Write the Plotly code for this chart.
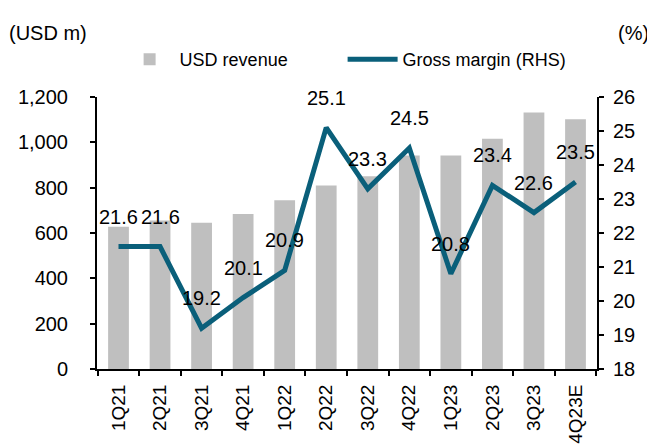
import plotly.graph_objects as go

categories = ["1Q21", "2Q21", "3Q21", "4Q21", "1Q22", "2Q22", "3Q22", "4Q22", "1Q23", "2Q23", "3Q23", "4Q23E"]
revenue = [628, 655, 645, 684, 744, 810, 850, 942, 942, 1016, 1132, 1102]
gross_margin = [21.6, 21.6, 19.2, 20.1, 20.9, 25.1, 23.3, 24.5, 20.8, 23.4, 22.6, 23.5]

FONT = "Liberation Sans, Arial, sans-serif"
TEAL = "#0a5f7a"

fig = go.Figure()
fig.add_trace(go.Bar(x=categories, y=revenue, name="USD revenue",
                     marker=dict(color="#bfbfbf", line=dict(width=0)), width=0.5))
fig.add_trace(go.Scatter(x=categories, y=gross_margin, name="Gross margin (RHS)", yaxis="y2",
                         mode="lines", line=dict(color=TEAL, width=5)))

for c, v in zip(categories, gross_margin):
    fig.add_annotation(x=c, y=v, yref="y2", text=f"{v:.1f}", showarrow=False,
                       yshift=30, font=dict(size=20, color="black", family=FONT))

fig.add_annotation(x=0, y=1, xref="paper", yref="paper", xshift=-90, yshift=64,
                   text="(USD m)", showarrow=False, xanchor="left", yanchor="middle",
                   font=dict(size=20, color="black", family=FONT))
fig.add_annotation(x=1, y=1, xref="paper", yref="paper", xshift=54, yshift=64,
                   text="(%)", showarrow=False, xanchor="right", yanchor="middle",
                   font=dict(size=20, color="black", family=FONT))

# page body adds an 8px offset, so the figure is 8px smaller and margins 8px less on top/left
fig.update_layout(
    width=647, height=437,
    margin=dict(l=89, r=58, t=89, b=76),
    paper_bgcolor="white", plot_bgcolor="white",
    font=dict(family=FONT, size=20, color="black"),
    showlegend=True,
    legend=dict(orientation="h", x=0.1725, y=0.882, xanchor="left", yanchor="middle",
                xref="container", yref="container", font=dict(size=18), itemwidth=50,
                entrywidth=158, bgcolor="rgba(0,0,0,0)"),
    xaxis=dict(type="category", tickangle=-90, showline=True, linecolor="black", linewidth=2,
               ticks="outside", tickson="boundaries", ticklen=5, tickwidth=2, tickcolor="black",
               showgrid=False, tickfont=dict(size=19), automargin=False, ticklabelstandoff=6),
    yaxis=dict(range=[0, 1200], dtick=200, tickformat=",", showline=True, linecolor="black",
               linewidth=2, ticks="outside", ticklen=5, tickwidth=2, tickcolor="black",
               showgrid=False, zeroline=False, tickfont=dict(size=20), automargin=False,
               ticklabelstandoff=18),
    yaxis2=dict(range=[18, 26], dtick=1, overlaying="y", side="right", showline=True,
                linecolor="black", linewidth=2, ticks="outside", ticklen=5, tickwidth=2,
                tickcolor="black", showgrid=False, zeroline=False, tickfont=dict(size=20),
                automargin=False, ticklabelstandoff=5),
)

fig.write_html("out.html")
